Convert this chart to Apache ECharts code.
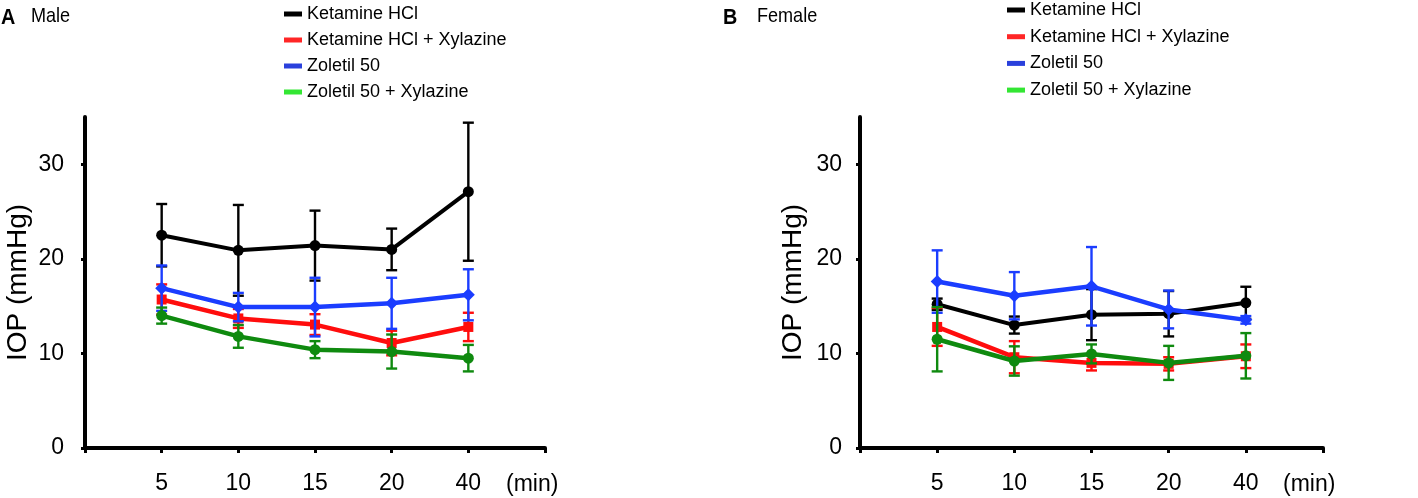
<!DOCTYPE html>
<html>
<head>
<meta charset="utf-8">
<script src="https://cdn.jsdelivr.net/npm/echarts@6/dist/echarts.min.js"></script>
<style>
html,body{margin:0;padding:0;background:#fff;}
#c{width:1418px;height:498px;}
</style>
</head>
<body>
<div id="c"></div>
<script>
// ---- data ----
const groupNames = ["Ketamine HCl", "Ketamine HCl + Xylazine", "Zoletil 50", "Zoletil 50 + Xylazine"];
const xPositions = [1, 2, 3, 4, 5];
const xTickLabels = ["5", "10", "15", "20", "40"];
const yTickValues = [0, 10, 20, 30];

// Male (panel A): means and SDs
const maleKetMean    = [22.5, 20.9, 21.4, 21.0, 27.1];
const maleKetSD      = [3.3, 4.8, 3.7, 2.2, 7.3];
const maleKetXylMean = [15.7, 13.7, 13.05, 11.1, 12.8];
const maleKetXylSD   = [1.6, 1.0, 1.1, 1.3, 1.5];
const maleZolMean    = [16.9, 14.9, 14.9, 15.3, 16.2];
const maleZolSD      = [2.4, 1.5, 3.1, 2.7, 2.7];
const maleZolXylMean = [14.0, 11.8, 10.4, 10.2, 9.5];
const maleZolXylSD   = [0.85, 1.2, 0.9, 1.8, 1.4];

// Female (panel B): means and SDs
const femKetMean    = [15.2, 13.0, 14.1, 14.2, 15.35];
const femKetSD      = [0.6, 0.9, 2.7, 2.4, 1.7];
const femKetXylMean = [12.8, 9.6, 9.0, 8.9, 9.7];
const femKetXylSD   = [2.0, 1.7, 0.8, 0.7, 1.25];
const femZolMean    = [17.6, 16.1, 17.1, 14.65, 13.55];
const femZolSD      = [3.3, 2.5, 4.15, 2.0, 0.4];
const femZolXylMean = [11.5, 9.2, 9.95, 9.0, 9.75];
const femZolXylSD   = [3.4, 1.55, 1.0, 1.8, 2.4];

// ---- styles ----
const FONT = "'Liberation Sans', Arial, sans-serif";

const lineColors   = ["#000000", "#ff0d0d", "#1b3dff", "#0f8a0f"];
const legendColors = ["#000000", "#ff2626", "#2a40dc", "#33e633"];
const symbols      = ["circle", "rect", "diamond", "circle"];
const symbolSizes  = [11, 10, 13, 11];
const lineWidths   = [4, 4.5, 4.5, 4.5];

const panels = [
  { means: [maleKetMean, maleKetXylMean, maleZolMean, maleZolXylMean],
    sds:   [maleKetSD, maleKetXylSD, maleZolSD, maleZolXylSD] },
  { means: [femKetMean, femKetXylMean, femZolMean, femZolXylMean],
    sds:   [femKetSD, femKetXylSD, femZolSD, femZolXylSD] }
];

function errRender(color) {
  return function (params, api) {
    const x = api.value(0), m = api.value(1), s = api.value(2);
    const t = api.coord([x, m + s]);
    const b = api.coord([x, m - s]);
    const w = 5.5;
    const st = { stroke: color, lineWidth: 2.4 };
    return {
      type: 'group',
      children: [
        { type: 'line', shape: { x1: t[0], y1: t[1], x2: b[0], y2: b[1] }, style: st },
        { type: 'line', shape: { x1: t[0] - w, y1: t[1], x2: t[0] + w, y2: t[1] }, style: st },
        { type: 'line', shape: { x1: b[0] - w, y1: b[1], x2: b[0] + w, y2: b[1] }, style: st }
      ]
    };
  };
}

const series = [];
panels.forEach((p, pi) => {
  for (let g = 0; g < 4; g++) {
    series.push({
      type: 'line', name: groupNames[g], xAxisIndex: pi, yAxisIndex: pi,
      data: xPositions.map((x, i) => [x, p.means[g][i]]),
      symbol: symbols[g], symbolSize: symbolSizes[g],
      lineStyle: { color: lineColors[g], width: lineWidths[g] },
      itemStyle: { color: lineColors[g] },
      z: 2 + g
    });
    series.push({
      type: 'custom', name: groupNames[g], xAxisIndex: pi, yAxisIndex: pi,
      data: xPositions.map((x, i) => [x, p.means[g][i], p.sds[g][i]]),
      encode: { x: 0, y: 1 },
      renderItem: errRender(lineColors[g]),
      z: 2 + g
    });
  }
});

function xAxisCfg(gi) {
  return {
    type: 'value', gridIndex: gi, min: 0, max: 6, interval: 1,
    axisLine: { show: true, lineStyle: { color: '#000', width: 4 } },
    axisTick: { show: true, length: 5, lineStyle: { color: '#000', width: 3 }, customValues: [0, 1, 2, 3, 4, 5, 6] },
    axisLabel: { show: true, margin: 24, fontSize: 23, fontFamily: FONT, color: '#000',
      customValues: xPositions, formatter: v => xTickLabels[xPositions.indexOf(v)] },
    splitLine: { show: false }
  };
}
function yAxisCfg(gi, margin) {
  return {
    type: 'value', gridIndex: gi, min: 0, max: 35, interval: 10,
    name: 'IOP (mmHg)', nameLocation: 'middle', nameGap: 53,
    nameTextStyle: { fontSize: 28, fontFamily: FONT, color: '#000' },
    axisLine: { show: true, lineStyle: { color: '#000', width: 4 } },
    axisTick: { show: true, length: 4, lineStyle: { color: '#000', width: 3 }, customValues: yTickValues },
    axisLabel: { show: true, margin: margin, fontSize: 23, fontFamily: FONT, color: '#000', customValues: yTickValues },
    splitLine: { show: false }
  };
}
function legendCfg(left, top, gap) {
  return {
    orient: 'vertical', left: left, top: top, icon: 'rect', padding: 0,
    itemWidth: 18, itemHeight: 5, itemGap: gap, selectedMode: false,
    textStyle: { fontSize: 18, fontFamily: FONT, color: '#000', lineHeight: 20 },
    data: groupNames.map((n, g) => ({ name: n, itemStyle: { color: legendColors[g] } }))
  };
}

const chart = echarts.init(document.getElementById('c'), null, { renderer: 'canvas' });
chart.setOption({
  animation: false,
  backgroundColor: '#ffffff',
  grid: [
    { left: 85, top: 117, width: 460, height: 331 },
    { left: 860, top: 117, width: 463, height: 331 }
  ],
  xAxis: [xAxisCfg(0), xAxisCfg(1)],
  yAxis: [yAxisCfg(0, 21), yAxisCfg(1, 18)],
  legend: [legendCfg(284, 4, 6), legendCfg(1007, 0, 6.7)],
  graphic: [
    { type: 'text', x: 1, y: 18, scaleX: 0.9, style: { text: 'A', font: "bold 22px " + FONT, fill: '#000', verticalAlign: 'middle' } },
    { type: 'text', x: 31, y: 16, scaleX: 0.86, style: { text: 'Male', font: "21px " + FONT, fill: '#000', verticalAlign: 'middle' } },
    { type: 'text', x: 723, y: 18, scaleX: 0.9, style: { text: 'B', font: "bold 22px " + FONT, fill: '#000', verticalAlign: 'middle' } },
    { type: 'text', x: 757, y: 16, scaleX: 0.86, style: { text: 'Female', font: "21px " + FONT, fill: '#000', verticalAlign: 'middle' } },
    { type: 'text', x: 506, y: 485, style: { text: '(min)', font: "23px " + FONT, fill: '#000', verticalAlign: 'middle' } },
    { type: 'text', x: 1283, y: 485, style: { text: '(min)', font: "23px " + FONT, fill: '#000', verticalAlign: 'middle' } }
  ],
  series: series
});
</script>
</body>
</html>
